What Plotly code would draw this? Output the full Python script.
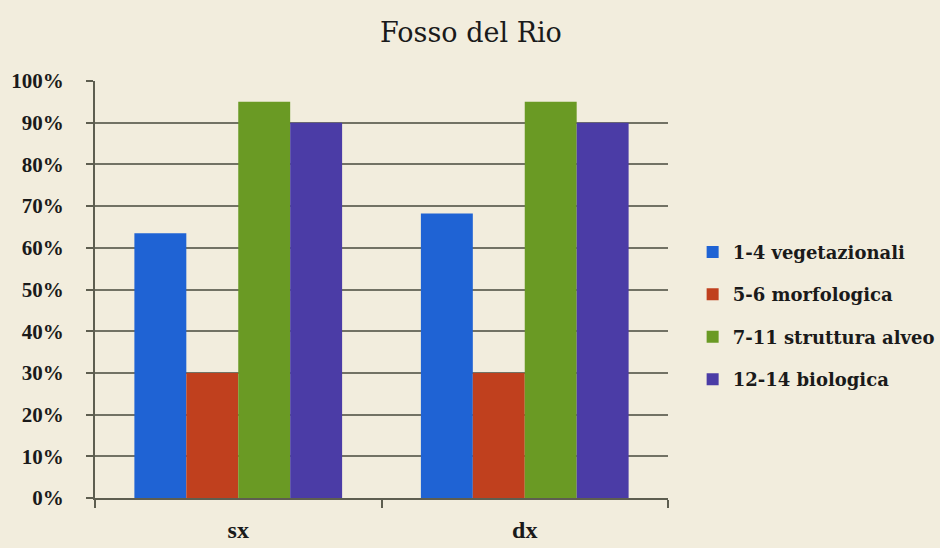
import plotly.graph_objects as go

# Data: share of each index group for the left (sx) and right (dx) bank
categories = ["sx", "dx"]
series_names = ["1-4 vegetazionali", "5-6 morfologica", "7-11 struttura alveo", "12-14 biologica"]
vegetazionali = [0.635, 0.682]
morfologica = [0.30, 0.30]
struttura_alveo = [0.95, 0.95]
biologica = [0.90, 0.90]
series_colors = ["#1f63d4", "#c0401e", "#6a9a24", "#4b3ca6"]

y_ticks = [i / 10 for i in range(11)]
y_tick_labels = [f"{int(round(v * 100))}%" for v in y_ticks]

BG = "#f2eddd"
GRID = "#727264"
AXIS = "#5e5e50"
SERIF = "Liberation Serif"
WIDE_SERIF = "DejaVu Serif"

fig = go.Figure()
for i, (name, vals) in enumerate(zip(series_names, [vegetazionali, morfologica, struttura_alveo, biologica])):
    fig.add_trace(go.Bar(
        x=categories,
        y=vals,
        name=name,
        legendgroup=f"g{i}",
        marker=dict(color=series_colors[i], line=dict(width=0)),
    ))

fig.update_layout(
    width=940,
    height=548,
    paper_bgcolor=BG,
    plot_bgcolor=BG,
    barmode="group",
    bargap=0.275,
    bargroupgap=0,
    margin=dict(l=94.5, r=272, t=81, b=50, autoexpand=False),
    title=dict(
        text="Fosso del Rio",
        x=471 / 940,
        xanchor="center",
        y=1 - 33 / 548,
        yanchor="middle",
        font=dict(family=WIDE_SERIF, size=27, color="#1a1a1a"),
    ),
    legend=dict(
        x=1.043,
        xanchor="left",
        y=0.437,
        yanchor="middle",
        traceorder="grouped",
        tracegroupgap=16,
        font=dict(family=WIDE_SERIF, size=18, color="#1a1a1a", weight="bold"),
        bgcolor="rgba(0,0,0,0)",
        itemwidth=30,
    ),
    showlegend=True,
)

fig.update_xaxes(
    type="category",
    range=[-0.5, 1.5],
    automargin=False,
    showline=True,
    linecolor=AXIS,
    linewidth=2,
    ticks="outside",
    tickson="boundaries",
    ticklen=8,
    tickwidth=2,
    tickcolor=AXIS,
    showgrid=False,
    ticklabelstandoff=9,
    tickfont=dict(family=SERIF, size=24, color="#1a1a1a", weight="bold"),
)

fig.update_yaxes(
    range=[0, 1],
    automargin=False,
    tickvals=y_ticks,
    ticktext=y_tick_labels,
    showline=True,
    linecolor=AXIS,
    linewidth=2,
    ticks="outside",
    ticklen=7,
    tickwidth=1.5,
    tickcolor=AXIS,
    showgrid=True,
    gridcolor=GRID,
    gridwidth=1.5,
    zeroline=False,
    ticklabelstandoff=18,
    tickfont=dict(family=SERIF, size=21, color="#1a1a1a", weight="bold"),
)

fig.write_html("out.html")
